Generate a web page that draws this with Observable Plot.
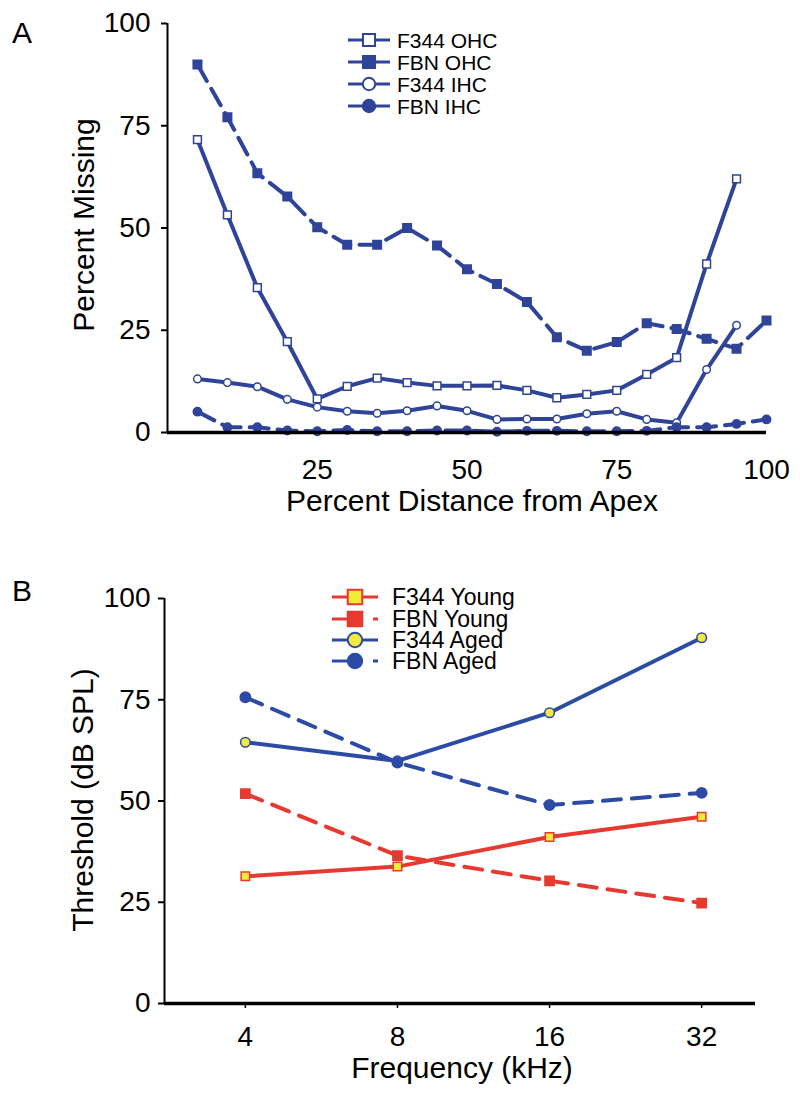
<!DOCTYPE html>
<html>
<head>
<meta charset="utf-8">
<script src="https://cdn.jsdelivr.net/npm/d3@7"></script>
<script src="https://cdn.jsdelivr.net/npm/@observablehq/plot@0.6"></script>
<style>
  html, body { margin: 0; padding: 0; background: #fff; }
  #fig { position: relative; width: 800px; height: 1100px; overflow: hidden;
         font-family: "Liberation Sans", Arial, Helvetica, sans-serif; }
  .panel { position: absolute; left: 0; }
  #overlay { position: absolute; left: 0; top: 0; pointer-events: none; }
</style>
</head>
<body>
<div id="fig">
  <div id="panelA" class="panel" style="top:0px"></div>
  <div id="panelB" class="panel" style="top:560px"></div>
</div>
<script>
// ---------------- Panel A data ----------------
const distance = [5, 10, 15, 20, 25, 30, 35, 40, 45, 50, 55, 60, 65, 70, 75, 80, 85, 90, 95, 100];
const f344OHC = [71.6, 53.2, 35.4, 22.2, 8.2, 11.3, 13.3, 12.2, 11.4, 11.4, 11.5, 10.3, 8.5, 9.3, 10.3, 14.2, 18.3, 41.2, 62.0, null];
const fbnOHC  = [90.0, 77.1, 63.4, 57.7, 50.2, 45.9, 45.9, 50.0, 45.7, 39.9, 36.3, 31.9, 23.3, 20.0, 22.1, 26.7, 25.3, 22.9, 20.5, 27.4];
const f344IHC = [13.1, 12.2, 11.2, 8.1, 6.2, 5.2, 4.7, 5.3, 6.5, 5.3, 3.2, 3.3, 3.3, 4.6, 5.2, 3.2, 2.4, 15.4, 26.2, null];
const fbnIHC  = [5.1, 1.3, 1.3, 0.5, 0.3, 0.6, 0.3, 0.3, 0.5, 0.5, 0.2, 0.4, 0.4, 0.3, 0.3, 0.4, 1.3, 1.3, 2.1, 3.2];
const xTicksA = [25, 50, 75, 100];
const yTicks = [0, 25, 50, 75, 100];
const namesA = ["F344 OHC", "FBN OHC", "F344 IHC", "FBN IHC"];

// ---------------- Panel B data ----------------
const freq = [4, 8, 16, 32];
const f344Young = [31.4, 33.8, 41.1, 46.1];
const fbnYoung  = [51.8, 36.5, 30.3, 24.8];
const f344Aged  = [64.5, 59.9, 71.8, 90.3];
const fbnAged   = [75.6, 59.5, 49.0, 52.0];
const namesB = ["F344 Young", "FBN Young", "F344 Aged", "FBN Aged"];

// ---------------- styles ----------------
const FONT = '"Liberation Sans", Arial, Helvetica, sans-serif';
const BLUE_A = "#2f4499";
const BLUE_B = "#2c4ba6";
const RED = "#e63a30";
const YELLOW = "#f4ea3a";

const styleA = [
  {values: f344OHC, symbol: "square", fill: "#fff", stroke: BLUE_A, r: 4.4, dash: null},
  {values: fbnOHC,  symbol: "square", fill: BLUE_A, stroke: BLUE_A, r: 4.8, dash: "19,9"},
  {values: f344IHC, symbol: "circle", fill: "#fff", stroke: BLUE_A, r: 3.8, dash: null},
  {values: fbnIHC,  symbol: "circle", fill: BLUE_A, stroke: BLUE_A, r: 4.2, dash: "19,9"}
];
const styleB = [
  {values: f344Young, symbol: "square", fill: YELLOW, stroke: RED, color: RED, r: 4.8, dash: null},
  {values: fbnYoung,  symbol: "square", fill: RED, stroke: RED, color: RED, r: 5.2, dash: "18,11"},
  {values: f344Aged,  symbol: "circle", fill: YELLOW, stroke: BLUE_B, color: BLUE_B, r: 4.8, dash: null},
  {values: fbnAged,   symbol: "circle", fill: BLUE_B, stroke: BLUE_B, color: BLUE_B, r: 5.2, dash: "18,11"}
];

const rowsA = (vals) => distance.map((d, i) => ({d, v: vals[i]})).filter(r => r.v != null);
const rowsB = (vals) => freq.map((f, i) => ({f, v: vals[i]}));

// ---------------- Panel A ----------------
const plotA = Plot.plot({
  width: 800, height: 530,
  marginLeft: 167, marginRight: 34, marginTop: 23, marginBottom: 98,
  style: {fontFamily: FONT, fontSize: "28px", color: "#000", background: "transparent", overflow: "visible"},
  x: {domain: [0, 100]},
  y: {domain: [0, 100]},
  marks: [
    Plot.axisY({ticks: yTicks, tickSize: 6, tickPadding: 11, strokeWidth: 2, label: null}),
    Plot.axisX({ticks: xTicksA, tickSize: 0, tickPadding: 27, label: null}),
    ...styleA.map(s => Plot.line(rowsA(s.values), {
      x: "d", y: "v", stroke: BLUE_A, strokeWidth: 4,
      strokeDasharray: s.dash || undefined, strokeLinejoin: "round"
    })),
    ...styleA.map(s => Plot.dot(rowsA(s.values), {
      x: "d", y: "v", symbol: s.symbol, r: s.r, fill: s.fill, stroke: s.stroke, strokeWidth: 1.5
    })),
    Plot.ruleX([0], {stroke: "#000", strokeWidth: 2}),
    Plot.ruleY([0], {stroke: "#000", strokeWidth: 3.5})
  ]
});
document.getElementById("panelA").appendChild(plotA);

// ---------------- Panel B ----------------
const xDomainB = [2.767, 40.9];
const plotB = Plot.plot({
  width: 800, height: 540,
  marginLeft: 164, marginRight: 45, marginTop: 38, marginBottom: 97,
  style: {fontFamily: FONT, fontSize: "28px", color: "#000", background: "transparent", overflow: "visible"},
  x: {type: "log", domain: xDomainB},
  y: {domain: [0, 100]},
  marks: [
    Plot.axisY({ticks: yTicks, tickSize: 6, tickPadding: 8, strokeWidth: 2, label: null}),
    Plot.axisX({ticks: freq, tickSize: 5, tickPadding: 18, strokeWidth: 1.5, tickFormat: d => String(d), label: null}),
    ...styleB.map(s => Plot.line(rowsB(s.values), {
      x: "f", y: "v", stroke: s.color, strokeWidth: 4,
      strokeDasharray: s.dash || undefined, strokeLinejoin: "round"
    })),
    ...styleB.map(s => Plot.dot(rowsB(s.values), {
      x: "f", y: "v", symbol: s.symbol, r: s.r, fill: s.fill, stroke: s.stroke, strokeWidth: 1.5
    })),
    Plot.ruleX([xDomainB[0]], {stroke: "#000", strokeWidth: 2}),
    Plot.ruleY([0], {stroke: "#000", strokeWidth: 3.5})
  ]
});
document.getElementById("panelB").appendChild(plotB);

// ---------------- Overlay: panel letters, axis titles, legends ----------------
const ov = d3.select("#fig").append("svg")
  .attr("id", "overlay").attr("width", 800).attr("height", 1100)
  .style("font-family", FONT);

ov.append("text").attr("x", 12).attr("y", 43).attr("font-size", 30).text("A");
ov.append("text").attr("x", 12).attr("y", 601).attr("font-size", 30).text("B");

ov.append("text").attr("transform", "translate(94,225) rotate(-90)")
  .attr("text-anchor", "middle").attr("font-size", 30).text("Percent Missing");
ov.append("text").attr("x", 472).attr("y", 511)
  .attr("text-anchor", "middle").attr("font-size", 30).text("Percent Distance from Apex");
ov.append("text").attr("transform", "translate(93,800) rotate(-90)")
  .attr("text-anchor", "middle").attr("font-size", 30).text("Threshold (dB SPL)");
ov.append("text").attr("x", 462).attr("y", 1078)
  .attr("text-anchor", "middle").attr("font-size", 30).text("Frequency (kHz)");

function symbolPath(sym, r) {
  const t = sym === "square" ? d3.symbolSquare : d3.symbolCircle;
  return d3.symbol(t, Math.PI * r * r)();
}

// Legend A
const legA = {rows: [40, 62, 84, 106], x1: 348, x2: 390, xm: 369, xt: 397, fs: 21};
namesA.forEach((name, i) => {
  const s = styleA[i], y = legA.rows[i];
  ov.append("line").attr("x1", legA.x1).attr("x2", legA.x2).attr("y1", y).attr("y2", y)
    .attr("stroke", BLUE_A).attr("stroke-width", 3);
  ov.append("path").attr("d", symbolPath(s.symbol, s.symbol === "square" ? 6.8 : 6.2))
    .attr("transform", `translate(${legA.xm},${y})`)
    .attr("fill", s.fill).attr("stroke", s.stroke).attr("stroke-width", 2);
  ov.append("text").attr("x", legA.xt).attr("y", y + 8).attr("font-size", legA.fs).text(name);
});

// Legend B
const legB = {rows: [597, 619, 640, 661], x1: 332, x2: 378, xm: 355, xt: 392, fs: 23};
namesB.forEach((name, i) => {
  const s = styleB[i], y = legB.rows[i];
  ov.append("line").attr("x1", legB.x1).attr("x2", legB.x2).attr("y1", y).attr("y2", y)
    .attr("stroke", s.color).attr("stroke-width", 3)
    .attr("stroke-dasharray", s.dash ? "22,19,6" : null);
  ov.append("path").attr("d", symbolPath(s.symbol, s.symbol === "square" ? 8.2 : 7.2))
    .attr("transform", `translate(${legB.xm},${y})`)
    .attr("fill", s.fill).attr("stroke", s.stroke).attr("stroke-width", 2);
  ov.append("text").attr("x", legB.xt).attr("y", y + 8).attr("font-size", legB.fs).text(name);
});
</script>
</body>
</html>
